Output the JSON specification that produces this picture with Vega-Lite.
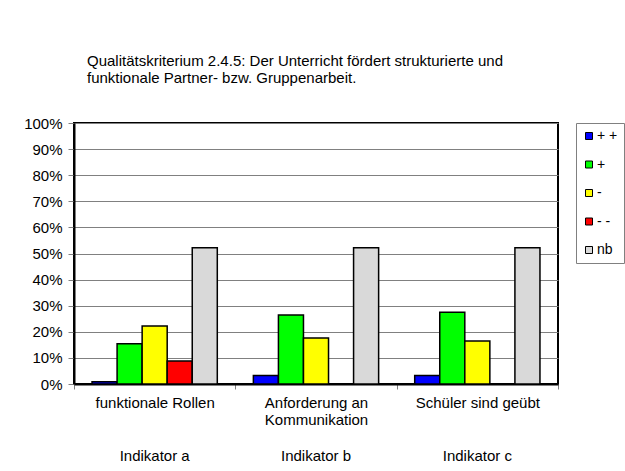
{
  "$schema": "https://vega.github.io/schema/vega-lite/v6.json",
  "width": 484,
  "height": 261,
  "autosize": {"type": "none"},
  "padding": {"left": 74, "top": 123, "right": 67, "bottom": 87},
  "background": "white",
  "config": {
    "font": "Liberation Sans",
    "view": {"stroke": "black", "strokeWidth": 2}
  },
  "title": {
    "text": ["Qualitätskriterium 2.4.5: Der Unterricht fördert strukturierte und", "funktionale Partner- bzw. Gruppenarbeit."],
    "anchor": "start",
    "frame": "group",
    "dx": 13,
    "offset": 30,
    "fontSize": 15,
    "fontWeight": "normal",
    "color": "black",
    "lineHeight": 17
  },
  "data": {
    "values": [
      {"kategorie": "funktionale Rollen#Indikator a", "bewertung": "+ +", "anteil": 0.009},
      {"kategorie": "funktionale Rollen#Indikator a", "bewertung": "+", "anteil": 0.154},
      {"kategorie": "funktionale Rollen#Indikator a", "bewertung": "-", "anteil": 0.222},
      {"kategorie": "funktionale Rollen#Indikator a", "bewertung": "- -", "anteil": 0.088},
      {"kategorie": "funktionale Rollen#Indikator a", "bewertung": "nb", "anteil": 0.522},
      {"kategorie": "Anforderung an|Kommunikation#Indikator b", "bewertung": "+ +", "anteil": 0.033},
      {"kategorie": "Anforderung an|Kommunikation#Indikator b", "bewertung": "+", "anteil": 0.264},
      {"kategorie": "Anforderung an|Kommunikation#Indikator b", "bewertung": "-", "anteil": 0.176},
      {"kategorie": "Anforderung an|Kommunikation#Indikator b", "bewertung": "nb", "anteil": 0.522},
      {"kategorie": "Schüler sind geübt#Indikator c", "bewertung": "+ +", "anteil": 0.033},
      {"kategorie": "Schüler sind geübt#Indikator c", "bewertung": "+", "anteil": 0.275},
      {"kategorie": "Schüler sind geübt#Indikator c", "bewertung": "-", "anteil": 0.165},
      {"kategorie": "Schüler sind geübt#Indikator c", "bewertung": "nb", "anteil": 0.522}
    ]
  },
  "resolve": {"axis": {"x": "independent"}},
  "layer": [
    {
      "mark": {"type": "bar", "stroke": "black", "strokeWidth": 1.5},
      "encoding": {
        "x": {
          "field": "kategorie",
          "type": "nominal",
          "sort": null,
          "scale": {"paddingInner": 0, "paddingOuter": 0},
          "axis": {
            "title": null,
            "orient": "bottom",
            "labelAngle": 0,
            "labelExpr": "datum.value ? split(split(datum.value, '#')[0], '|') : ''",
            "labelLineHeight": 17,
            "labelFontSize": 15,
            "labelColor": "black",
            "labelPadding": 6,
            "labelLimit": 400,
            "labelOverlap": false,
            "tickBand": "extent",
            "tickSize": 5,
            "tickColor": "#808080",
            "domainColor": "black",
            "domainWidth": 2
          }
        },
        "xOffset": {
          "field": "bewertung",
          "type": "nominal",
          "scale": {"domain": ["+ +", "+", "-", "- -", "nb"], "paddingInner": 0, "paddingOuter": 0.72}
        },
        "y": {
          "field": "anteil",
          "type": "quantitative",
          "scale": {"domain": [0, 1], "nice": false},
          "axis": {
            "title": null,
            "values": [0, 0.1, 0.2, 0.3, 0.4, 0.5, 0.6, 0.7, 0.8, 0.9, 1],
            "format": ".0%",
            "labelFontSize": 15,
            "labelColor": "black",
            "labelPadding": 6,
            "tickSize": 6,
            "tickColor": "#808080",
            "gridColor": "#808080",
            "gridOpacity": 1,
            "domainColor": "black",
            "domainWidth": 2
          }
        },
        "color": {
          "field": "bewertung",
          "type": "nominal",
          "scale": {"domain": ["+ +", "+", "-", "- -", "nb"], "range": ["#0000FF", "#00FF00", "#FFFF00", "#FF0000", "#D9D9D9"]},
          "legend": {
            "title": null,
            "orient": "right",
            "offset": 18,
            "symbolType": "square",
            "symbolSize": 49,
            "symbolStrokeColor": "black",
            "symbolStrokeWidth": 1,
            "symbolOpacity": 1,
            "labelFontSize": 14,
            "labelColor": "black",
            "labelOffset": 1,
            "rowPadding": 14.5,
            "padding": 6,
            "strokeColor": "#808080",
            "fillColor": "white"
          }
        }
      }
    },
    {
      "mark": {"type": "rule", "opacity": 0},
      "encoding": {
        "x": {
          "field": "kategorie",
          "type": "nominal",
          "sort": null,
          "axis": {
            "title": null,
            "orient": "bottom",
            "labelAngle": 0,
            "labelExpr": "datum.value ? split(datum.value, '#')[1] : ''",
            "labelFontSize": 15,
            "labelColor": "black",
            "labelPadding": 4,
            "labelLimit": 400,
            "labelOverlap": false,
            "offset": 60,
            "domain": false,
            "ticks": false,
            "grid": false
          }
        }
      }
    }
  ]
}
